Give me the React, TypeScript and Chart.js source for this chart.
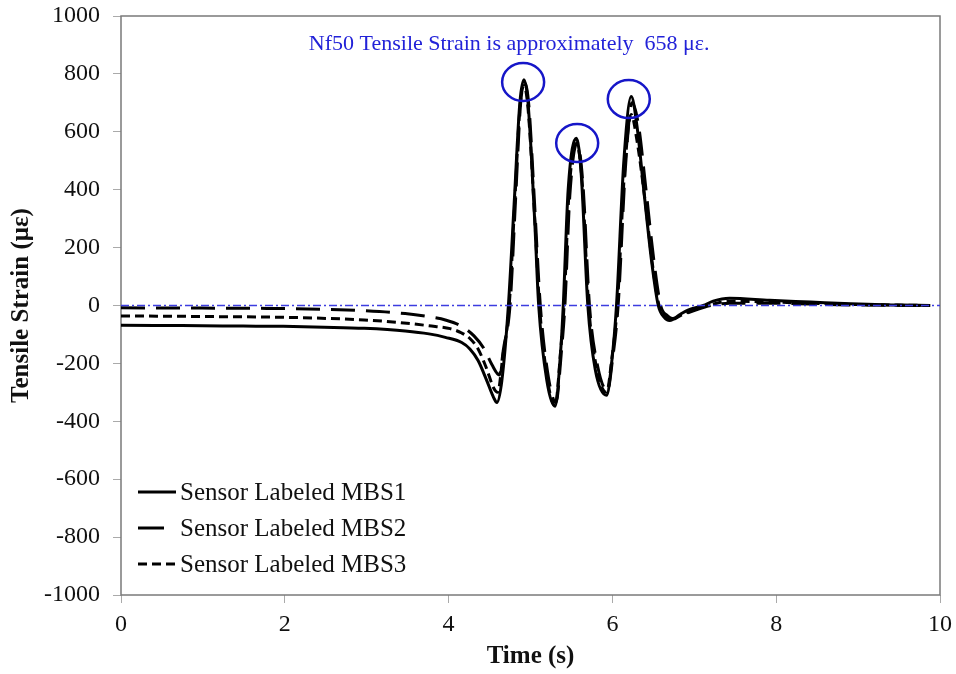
import React, { useEffect, useRef } from "react";
import { Chart, registerables } from "chart.js";

Chart.register(...registerables);

const FONT = "'Liberation Serif', 'Times New Roman', serif";

const seriesLabels = ["Sensor Labeled MBS1", "Sensor Labeled MBS2", "Sensor Labeled MBS3"];

const timeMBS1 = [0, 0.5, 0.99, 1.49, 1.98, 2.48, 2.97, 3.47, 3.76, 3.96, 4.16, 4.26, 4.36, 4.46, 4.55, 4.59, 4.65, 4.73, 4.8, 4.87, 4.92, 4.97, 5.05, 5.1, 5.2, 5.3, 5.37, 5.4, 5.46, 5.56, 5.62, 5.7, 5.79, 5.93, 5.99, 6.05, 6.14, 6.23, 6.3, 6.39, 6.48, 6.56, 6.63, 6.7, 6.83, 6.93, 7.11, 7.23, 7.43, 7.92, 8.42, 8.91, 9.41, 9.88];
const strainMBS1 = [-68, -69, -70, -71, -72, -75, -79, -88, -98, -110, -128, -150, -190, -255, -318, -335, -260, 0, 350, 700, 780, 700, 300, 0, -260, -348, -150, 0, 400, 578, 450, 0, -220, -310, -200, 0, 500, 722, 620, 380, 150, 0, -40, -52, -30, -15, 0, 15, 25, 18, 12, 6, 2, 0];

const timeMBS2 = [0, 0.99, 1.78, 2.48, 2.97, 3.47, 3.81, 3.96, 4.16, 4.31, 4.43, 4.53, 4.62, 4.67, 4.75, 4.82, 4.88, 4.93, 4.98, 5.05, 5.12, 5.22, 5.31, 5.38, 5.42, 5.48, 5.57, 5.64, 5.72, 5.82, 5.94, 6.0, 6.07, 6.16, 6.24, 6.32, 6.41, 6.5, 6.59, 6.67, 6.73, 6.88, 7.13, 7.43, 7.92, 8.42, 8.91, 9.88];
const strainMBS2 = [-8, -9, -10, -13, -18, -28, -41, -50, -72, -105, -148, -205, -240, -150, 0, 380, 700, 768, 690, 350, 0, -250, -335, -150, 0, 380, 562, 420, 0, -210, -295, -190, 0, 480, 700, 620, 400, 170, 0, -35, -45, -30, -5, 8, 8, 5, 2, 0];

const timeMBS3 = [0, 0.99, 2.18, 2.97, 3.41, 3.76, 4.02, 4.16, 4.26, 4.36, 4.46, 4.55, 4.6, 4.66, 4.74, 4.81, 4.87, 4.92, 4.97, 5.05, 5.11, 5.21, 5.3, 5.37, 5.41, 5.47, 5.56, 5.63, 5.71, 5.81, 5.93, 5.99, 6.06, 6.15, 6.23, 6.3, 6.4, 6.49, 6.57, 6.65, 6.71, 6.83, 7.03, 7.23, 7.43, 7.92, 8.42, 8.91, 9.88];
const strainMBS3 = [-36, -38, -42, -50, -59, -70, -80, -95, -114, -150, -215, -285, -300, -180, 0, 370, 680, 760, 680, 310, 0, -260, -345, -150, 0, 390, 560, 430, 0, -220, -300, -190, 0, 470, 660, 570, 360, 140, 0, -40, -50, -35, -10, 5, 15, 12, 8, 4, 0];

const annotationText = "Nf50 Tensile Strain is approximately  658 με.";
const annotationTime = 4.74;
const annotationStrain = 903;
const peakTimes = [4.91, 5.57, 6.2];
const peakStrains = [772, 561, 713];

const xTitle = "Time (s)";
const yTitle = "Tensile Strain (με)";

function zip(xs: number[], ys: number[]) {
  return xs.map((x, i) => ({ x, y: ys[i] }));
}

const decorPlugin = {
  id: "decor",
  beforeDatasetsDraw(chart: any) {
    const { ctx, chartArea: a } = chart;
    ctx.save();
    ctx.strokeStyle = "#7a7a7a";
    ctx.lineWidth = 1.5;
    ctx.strokeRect(a.left, a.top, a.right - a.left, a.bottom - a.top);
    ctx.restore();
  },
  afterDatasetsDraw(chart: any) {
    const { ctx, chartArea: a } = chart;
    const xs = chart.scales.x;
    const ys = chart.scales.y;
    ctx.save();
    const y0 = ys.getPixelForValue(0);
    ctx.strokeStyle = "#3d3de0";
    ctx.lineWidth = 1.5;
    ctx.setLineDash([8, 3, 2, 3]);
    ctx.beginPath();
    ctx.moveTo(a.left, y0);
    ctx.lineTo(a.right, y0);
    ctx.stroke();
    ctx.setLineDash([]);
    ctx.strokeStyle = "#1616c8";
    ctx.lineWidth = 2.5;
    peakTimes.forEach((t, i) => {
      const cx = xs.getPixelForValue(t);
      const cy = ys.getPixelForValue(peakStrains[i]);
      ctx.beginPath();
      ctx.ellipse(cx, cy, 21, 19, 0, 0, Math.PI * 2);
      ctx.stroke();
    });
    ctx.fillStyle = "#2222d8";
    ctx.font = `22px ${FONT}`;
    ctx.textAlign = "center";
    ctx.textBaseline = "middle";
    ctx.fillText(annotationText, xs.getPixelForValue(annotationTime), ys.getPixelForValue(annotationStrain));
    ctx.font = `25px ${FONT}`;
    ctx.textAlign = "left";
    ctx.fillStyle = "#111";
    const rowOffsets = [103, 67, 31];
    chart.data.datasets.forEach((ds: any, i: number) => {
      const y = a.bottom - rowOffsets[i];
      ctx.strokeStyle = "#000";
      ctx.lineWidth = ds.borderWidth;
      ctx.setLineDash(ds.legendDash || []);
      ctx.beginPath();
      ctx.moveTo(a.left + 17, y);
      ctx.lineTo(a.left + 55, y);
      ctx.stroke();
      ctx.setLineDash([]);
      ctx.fillText(ds.label, a.left + 59, y + 1);
    });
    ctx.restore();
  },
};

function noPad(s: any) {
  s.paddingTop = 0;
  s.paddingBottom = 0;
  s.paddingLeft = 0;
  s.paddingRight = 0;
}

export default function App() {
  const ref = useRef<HTMLCanvasElement>(null);
  useEffect(() => {
    if (!ref.current) return;
    const chart = new Chart(ref.current, {
      type: "line",
      data: {
        datasets: [
          { label: seriesLabels[0], data: zip(timeMBS1, strainMBS1), borderColor: "#000", borderWidth: 3, borderDash: [], legendDash: [], pointRadius: 0, cubicInterpolationMode: "monotone", fill: false },
          { label: seriesLabels[1], data: zip(timeMBS2, strainMBS2), borderColor: "#000", borderWidth: 3, borderDash: [24, 11], legendDash: [26, 14], pointRadius: 0, cubicInterpolationMode: "monotone", fill: false },
          { label: seriesLabels[2], data: zip(timeMBS3, strainMBS3), borderColor: "#000", borderWidth: 3, borderDash: [9, 5], legendDash: [9, 5], pointRadius: 0, cubicInterpolationMode: "monotone", fill: false },
        ] as any,
      },
      options: {
        responsive: false,
        animation: false,
        layout: { padding: { top: 16, right: 16, left: 0, bottom: 0 } },
        plugins: { legend: { display: false }, tooltip: { enabled: false } },
        scales: {
          x: {
            type: "linear",
            min: 0,
            max: 10,
            ticks: { stepSize: 2, font: { family: FONT, size: 24 }, color: "#111", padding: 7, maxRotation: 0, callback: (v: any) => String(v) },
            grid: { drawOnChartArea: false, drawTicks: true, tickLength: 8, color: "#aaa" },
            border: { display: false },
            title: { display: true, text: xTitle, font: { family: FONT, size: 25, weight: "bold" }, color: "#111", padding: { top: 0, bottom: 2 } },
            afterFit(s: any) { s.height = 79; noPad(s); },
          },
          y: {
            type: "linear",
            min: -1000,
            max: 1000,
            ticks: { stepSize: 200, font: { family: FONT, size: 24 }, color: "#111", padding: 13, callback: (v: any) => String(v) },
            grid: { drawOnChartArea: false, drawTicks: true, tickLength: 8, color: "#aaa" },
            border: { display: false },
            title: { display: true, text: yTitle, font: { family: FONT, size: 25, weight: "bold" }, color: "#111", padding: { top: 7, bottom: 0 } },
            afterFit(s: any) { s.width = 121; noPad(s); },
          },
        },
      } as any,
      plugins: [decorPlugin],
    });
    return () => chart.destroy();
  }, []);
  return (
    <div style={{ position: "absolute", left: 0, top: 0, width: 956, height: 674, background: "#fff" }}>
      <canvas ref={ref} width={956} height={674} />
    </div>
  );
}
